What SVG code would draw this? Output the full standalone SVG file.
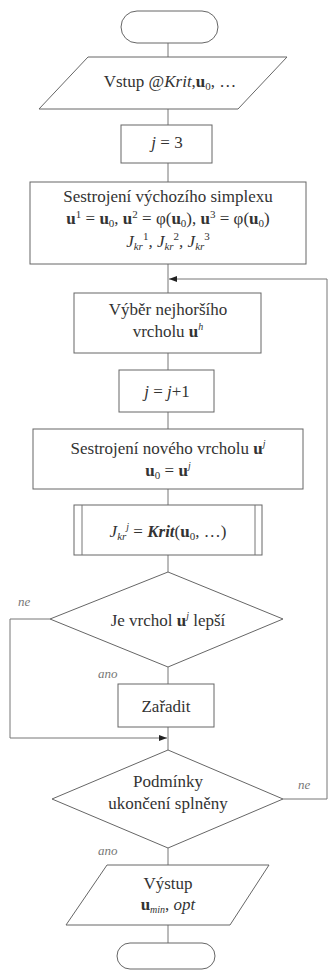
<svg xmlns="http://www.w3.org/2000/svg" width="328" height="970" viewBox="0 0 328 970">
<style>
.s{fill:#fff;stroke:#666;stroke-width:1}
.c{fill:none;stroke:#777;stroke-width:1}
.t{font-family:"Times New Roman","Liberation Serif",Tinos,"DejaVu Serif",serif;font-size:17px;fill:#333;text-anchor:middle}
.i{font-style:italic}
.b{font-weight:bold}
.l{font-family:"Times New Roman","Liberation Serif",Tinos,"DejaVu Serif",serif;font-size:13px;font-style:italic;fill:#777}
</style>
<defs>
<marker id="ah" markerWidth="8" markerHeight="6" refX="8" refY="3" orient="auto" markerUnits="userSpaceOnUse">
<path d="M0,0 L8,3 L0,6 Z" fill="#222"/>
</marker>
</defs>
<rect width="328" height="970" fill="#fff"/>
<g id="connectors">
<path class="c" d="M168,43 V57"/>
<path class="c" d="M168,109 V125"/>
<path class="c" d="M168,163 V182"/>
<path class="c" d="M168,264 V293"/>
<path class="c" d="M168,353 V370"/>
<path class="c" d="M168,412 V429"/>
<path class="c" d="M168,489 V505"/>
<path class="c" d="M168,555 V572"/>
<path class="c" d="M168,667 V684"/>
<path class="c" d="M168,727 V750"/>
<path class="c" d="M168,848 V865"/>
<path class="c" d="M168,925 V943"/>
<path class="c" d="M50,619 H10 V738 H167" marker-end="url(#ah)"/>
<path class="c" d="M283,799 H327 V279 H169" marker-end="url(#ah)"/>
</g>
<g id="start"><rect class="s" x="121" y="11" width="97" height="32" rx="16"/></g>
<g id="input">
<polygon class="s" points="88,57 287,57 238,109 39,109"/>
<text class="t" x="170" y="87">Vstup @<tspan class="i">Krit</tspan>,<tspan class="b">u</tspan><tspan font-size="11" dy="3">0</tspan><tspan dy="-3">, …</tspan></text>
</g>
<g id="init-j">
<rect class="s" x="121" y="125" width="91" height="38"/>
<text class="t" x="167" y="148" font-size="13"><tspan class="i">j</tspan> = 3</text>
</g>
<g id="simplex">
<rect class="s" x="30" y="182" width="276" height="82"/>
<text class="t" x="168" y="202">Sestrojení výchozího simplexu</text>
<text class="t" x="168" y="224"><tspan class="b">u</tspan><tspan font-size="11" dy="-6">1</tspan><tspan dy="6"> = </tspan><tspan class="b">u</tspan><tspan font-size="11" dy="3">0</tspan><tspan dy="-3">, </tspan><tspan class="b">u</tspan><tspan font-size="11" dy="-6">2</tspan><tspan dy="6"> = φ(</tspan><tspan class="b">u</tspan><tspan font-size="11" dy="3">0</tspan><tspan dy="-3">), </tspan><tspan class="b">u</tspan><tspan font-size="11" dy="-6">3</tspan><tspan dy="6"> = φ(</tspan><tspan class="b">u</tspan><tspan font-size="11" dy="3">0</tspan><tspan dy="-3">)</tspan></text>
<text class="t i" x="168" y="247">J<tspan font-size="11" dy="3">kr</tspan><tspan font-size="11" font-style="normal" dy="-10">1</tspan><tspan dy="7">, J</tspan><tspan font-size="11" dy="3">kr</tspan><tspan font-size="11" font-style="normal" dy="-10">2</tspan><tspan dy="7">, J</tspan><tspan font-size="11" dy="3">kr</tspan><tspan font-size="11" font-style="normal" dy="-10">3</tspan></text>
</g>
<g id="worst">
<rect class="s" x="74" y="293" width="187" height="60"/>
<text class="t" x="168" y="315">Výběr nejhoršího</text>
<text class="t" x="168" y="337">vrcholu <tspan class="b">u</tspan><tspan font-size="10" class="i" dy="-7">h</tspan></text>
</g>
<g id="incr-j">
<rect class="s" x="119" y="370" width="95" height="42"/>
<text class="t" x="167" y="397"><tspan class="i">j</tspan> = <tspan class="i">j</tspan>+1</text>
</g>
<g id="new-vertex">
<rect class="s" x="33" y="429" width="270" height="60"/>
<text class="t" x="168" y="454">Sestrojení nového vrcholu <tspan class="b">u</tspan><tspan font-size="10" class="i" dy="-7">j</tspan></text>
<text class="t" x="168" y="476"><tspan class="b">u</tspan><tspan font-size="11" dy="3">0</tspan><tspan dy="-3"> = </tspan><tspan class="b">u</tspan><tspan font-size="10" class="i" dy="-7">j</tspan></text>
</g>
<g id="crit">
<rect class="s" x="74" y="505" width="188" height="50"/>
<path class="c" d="M82,505 V555 M255,505 V555"/>
<text class="t" x="168" y="537"><tspan class="i">J</tspan><tspan class="i" font-size="11" dy="3">kr</tspan><tspan class="i" font-size="10" dy="-10">j</tspan><tspan dy="7"> = </tspan><tspan class="i b">Krit</tspan>(<tspan class="b">u</tspan><tspan font-size="11" dy="3">0</tspan><tspan dy="-3">, …)</tspan></text>
</g>
<g id="better">
<polygon class="s" points="168,572 283,619 168,667 50,619"/>
<text class="t" x="168" y="626">Je vrchol <tspan class="b">u</tspan><tspan font-size="10" class="i" dy="-7">j</tspan><tspan dy="7"> lepší</tspan></text>
</g>
<g id="insert">
<rect class="s" x="118" y="684" width="96" height="43"/>
<text class="t" x="166" y="712">Zařadit</text>
</g>
<g id="stop-cond">
<polygon class="s" points="168,750 283,799 168,848 52,799"/>
<text class="t" x="168" y="787">Podmínky</text>
<text class="t" x="168" y="809">ukončení splněny</text>
</g>
<g id="output">
<polygon class="s" points="107,865 269,865 230,925 66,925"/>
<text class="t" x="168" y="889">Výstup</text>
<text class="t" x="168" y="910"><tspan class="b">u</tspan><tspan font-size="10" class="i" dy="3">min</tspan><tspan dy="-3">, </tspan><tspan class="i">opt</tspan></text>
</g>
<g id="end"><rect class="s" x="117" y="943" width="98" height="26" rx="13"/></g>
<g id="labels">
<text class="l" x="18" y="606">ne</text>
<text class="l" x="98" y="678">ano</text>
<text class="l" x="298" y="789">ne</text>
<text class="l" x="98" y="855">ano</text>
</g>
</svg>
